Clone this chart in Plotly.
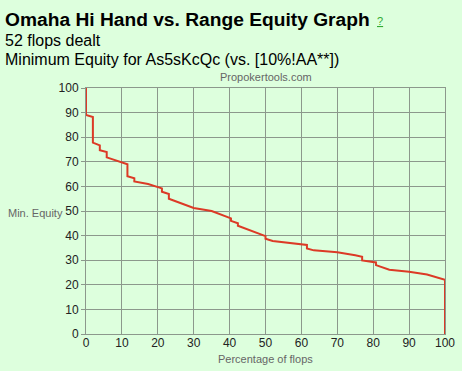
import plotly.graph_objects as go

# ---- data ----
pct_flops = [0, 0, 1.92, 1.92, 3.85, 3.85, 5.77, 5.77, 11.54, 11.54, 13.46, 13.46,
             17.3, 21.15, 21.15, 23.08, 23.08, 30.0, 35.0, 40.38, 40.38, 42.31, 42.31,
             48.0, 50.0, 50.0, 52.0, 61.54, 61.54, 63.46, 70.0, 75.0, 76.92, 76.92,
             80.77, 80.77, 84.5, 90.0, 95.0, 100, 100]
min_equity = [100, 89, 88.2, 77.8, 76.7, 74.7, 74.0, 71.8, 69.0, 64.1, 63.3, 62.0,
              61.0, 59.2, 57.8, 56.9, 55.0, 51.2, 50.0, 47.0, 46.0, 45.0, 44.0,
              40.8, 39.8, 38.7, 37.8, 36.2, 34.8, 34.0, 33.2, 32.0, 31.4, 29.9,
              29.1, 28.0, 26.1, 25.3, 24.2, 22.0, 0]
tick_vals = [0, 10, 20, 30, 40, 50, 60, 70, 80, 90, 100]

title_text = "Omaha Hi Hand vs. Range Equity Graph"
subtitle1 = "52 flops dealt"
subtitle2 = "Minimum Equity for As5sKcQc (vs. [10%!AA**])"
credit = "Propokertools.com"
y_label = "Min. Equity"
x_label = "Percentage of flops"

# ---- layout geometry ----
W, H = 462, 371
L, R, T, B = 86, 17, 88, 37
PW, PH = W - L - R, H - T - B
BG = "#ddffdd"
GRID = "#8c988c"
FONT = "Liberation Sans, Arial, sans-serif"


def px(x):
    return (x - L) / PW


def py(y):
    return (H - B - y) / PH


fig = go.Figure()
fig.add_trace(go.Scatter(x=pct_flops, y=min_equity, mode="lines",
                         line=dict(color="#dc3a26", width=2), hoverinfo="skip"))

axis_common = dict(range=[0, 100], tickvals=tick_vals, ticktext=[str(v) for v in tick_vals],
                   showgrid=True, gridcolor=GRID, gridwidth=1, zeroline=False,
                   showline=True, linecolor=GRID, linewidth=1, mirror=True,
                   automargin=False,
                   tickfont=dict(family=FONT, size=12, color="#222222"), fixedrange=True)

fig.update_xaxes(**axis_common, ticks="", ticklabelstandoff=-2)
fig.update_yaxes(**axis_common, ticks="outside", ticklen=4, tickcolor=GRID)

ann = []
ann.append(dict(text="<b>" + title_text + "</b>", x=px(3), y=py(19), xanchor="left", yanchor="middle",
                font=dict(family=FONT, size=19.2, color="#000000")))
ann.append(dict(text="<u>?</u>", x=px(380), y=py(21), xanchor="center", yanchor="middle",
                font=dict(family=FONT, size=11, color="#33aa33")))
ann.append(dict(text=subtitle1, x=px(3), y=py(40.5), xanchor="left", yanchor="middle",
                font=dict(family=FONT, size=16, color="#000000")))
ann.append(dict(text=subtitle2, x=px(3), y=py(59.5), xanchor="left", yanchor="middle",
                font=dict(family=FONT, size=16, color="#000000")))
ann.append(dict(text=credit, x=px(266), y=py(77.5), xanchor="center", yanchor="middle",
                font=dict(family=FONT, size=11, color="#666666")))
ann.append(dict(text=y_label, x=px(65), y=py(213), xanchor="right", yanchor="middle",
                font=dict(family=FONT, size=11, color="#666666")))
ann.append(dict(text=x_label, x=px(265.5), y=py(358.5), xanchor="center", yanchor="middle",
                font=dict(family=FONT, size=11, color="#666666")))
for a in ann:
    a.update(xref="paper", yref="paper", showarrow=False)

fig.update_layout(width=W, height=H, autosize=False,
                  margin=dict(l=L, r=R, t=T, b=B, pad=0, autoexpand=False),
                  paper_bgcolor=BG, plot_bgcolor=BG, showlegend=False,
                  annotations=ann, font=dict(family=FONT))

fig.write_html("out.html", config={"displayModeBar": False},
               post_script="document.body.style.margin='0';document.body.style.overflow='hidden';")
